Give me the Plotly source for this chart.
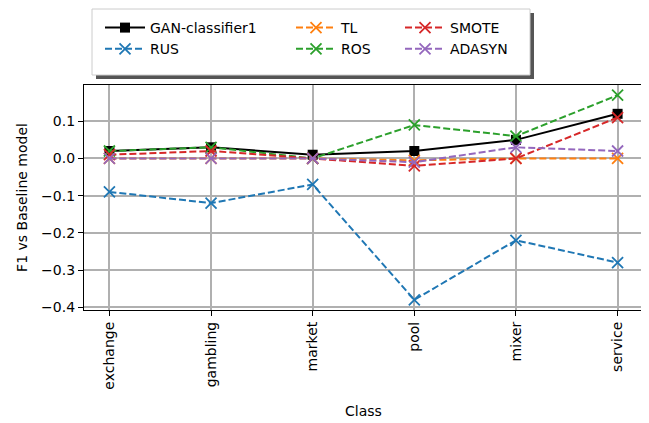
import plotly.graph_objects as go

classes = ["exchange", "gambling", "market", "pool", "mixer", "service"]
gan = [0.02, 0.03, 0.01, 0.02, 0.05, 0.12]
rus = [-0.09, -0.12, -0.07, -0.38, -0.22, -0.28]
tl = [0.0, 0.0, 0.0, -0.005, 0.0, 0.0]
ros = [0.02, 0.03, 0.0, 0.09, 0.06, 0.17]
smote = [0.01, 0.02, 0.0, -0.02, 0.0, 0.11]
adasyn = [0.0, 0.0, 0.0, -0.01, 0.03, 0.02]

yticks = [-0.4, -0.3, -0.2, -0.1, 0.0, 0.1]
ytick_text = ["\u22120.4", "\u22120.3", "\u22120.2", "\u22120.1", "0.0", "0.1"]

FONT = "DejaVu Sans"
FS = 14
x = list(range(len(classes)))

fig = go.Figure()
fig.add_trace(go.Scatter(x=x, y=gan, name="GAN-classifier1", mode="lines+markers",
                         line=dict(color="black", width=2),
                         marker=dict(symbol="square", size=10, color="black"),
                         legend="legend"))
series = [
    ("RUS", rus, "#1f77b4", "legend"),
    ("TL", tl, "#ff7f0e", "legend2"),
    ("ROS", ros, "#2ca02c", "legend2"),
    ("SMOTE", smote, "#d62728", "legend3"),
    ("ADASYN", adasyn, "#9467bd", "legend3"),
]
for name, vals, col, lg in series:
    fig.add_trace(go.Scatter(x=x, y=vals, name=name, mode="lines+markers",
                             line=dict(color=col, width=2, dash="7px,3px"),
                             marker=dict(symbol="x-thin", size=11, color=col,
                                         line=dict(color=col, width=1.8)),
                             legend=lg))

# page body has an 8px margin; compensate so the plot lands at reference pixels
OFF = 8
PL, PT, PR, PB = 84, 85, 643, 310   # plot area in screen pixels
W, H = 649 - OFF, 423 - OFF
L, T = PL - OFF, PT - OFF
R, B = W - (PR - OFF), H - (PB - OFF)
pw, ph = PR - PL, PB - PT

def px(xs):
    return (xs - PL) / pw

def py(ys):
    return (PB - ys) / ph

leg_common = dict(bgcolor="rgba(0,0,0,0)", borderwidth=0, font=dict(family=FONT, size=FS, color="black"),
                  xanchor="left", yanchor="top", orientation="v", tracegroupgap=0, itemwidth=40)

fig.update_layout(
    width=W, height=H,
    margin=dict(l=L, r=R, t=T, b=B, autoexpand=False),
    paper_bgcolor="white", plot_bgcolor="white",
    font=dict(family=FONT, size=FS, color="black"),
    legend=dict(x=px(100), y=py(12), **leg_common),
    legend2=dict(x=px(291), y=py(12), **leg_common),
    legend3=dict(x=px(400), y=py(12), **leg_common),
    xaxis=dict(range=[-0.25, 5.25], tickmode="array", tickvals=x, ticktext=classes,
               tickangle=-90, showgrid=True, gridcolor="#b0b0b0", gridwidth=1.5,
               showline=True, linecolor="black", linewidth=1.3, mirror=True,
               ticks="outside", ticklen=5, tickcolor="black", zeroline=False, automargin=False,
               title=dict(text="Class", font=dict(family=FONT, size=FS), standoff=17),
               tickfont=dict(family=FONT, size=FS)),
    yaxis=dict(range=[-0.4075, 0.1975], tickmode="array", tickvals=yticks, ticktext=ytick_text,
               showgrid=True, gridcolor="#b0b0b0", gridwidth=1.5,
               showline=True, linecolor="black", linewidth=1.3, mirror=True,
               ticks="outside", ticklen=5, tickcolor="black", zeroline=False, automargin=False,
               title=dict(text="F1 vs Baseline model", font=dict(family=FONT, size=FS), standoff=10),
               tickfont=dict(family=FONT, size=FS)),
    shapes=[
        dict(type="rect", xref="paper", yref="paper", x0=px(96), x1=px(534), y0=py(79), y1=py(13),
             fillcolor="#555555", line=dict(width=0), layer="below"),
        dict(type="rect", xref="paper", yref="paper", x0=px(92), x1=px(530), y0=py(75), y1=py(9),
             fillcolor="white", line=dict(color="#cccccc", width=1), layer="below"),
    ],
)

fig.write_html("out.html")
